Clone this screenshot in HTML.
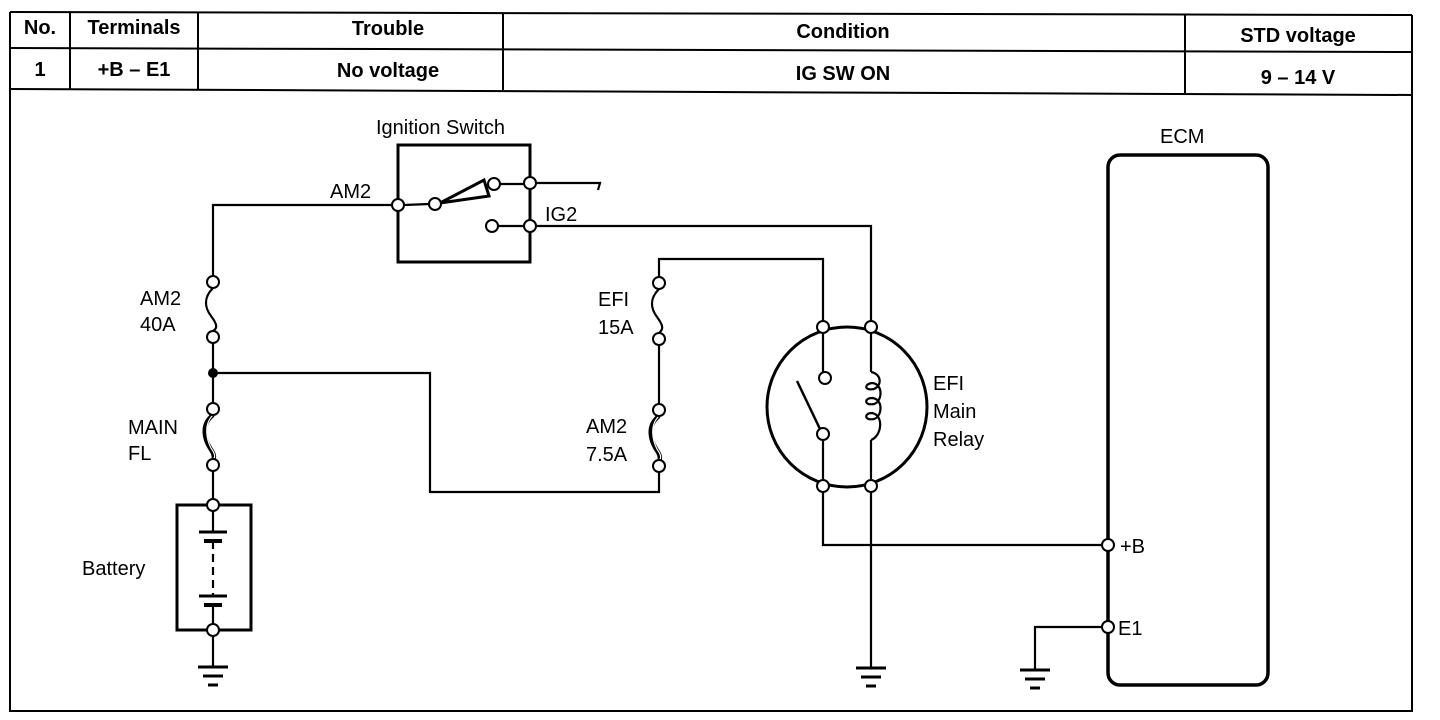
<!DOCTYPE html>
<html><head><meta charset="utf-8"><style>
html,body{margin:0;padding:0;background:#fff;}
svg{display:block;}
text{font-family:"Liberation Sans",Arial,sans-serif;fill:#000;}
.b{font-weight:bold;font-size:20px;}
.l{font-size:20px;}
</style></head><body>
<svg width="1440" height="720" viewBox="0 0 1440 720" xmlns="http://www.w3.org/2000/svg">
<g stroke="#000" fill="none" stroke-width="2">
<line x1="10" y1="12" x2="1412" y2="15"/>
<line x1="10" y1="48" x2="1412" y2="52"/>
<line x1="10" y1="89" x2="1412" y2="95"/>
<line x1="10" y1="12" x2="10" y2="712"/>
<line x1="1412" y1="15" x2="1412" y2="712"/>
<line x1="10" y1="711" x2="1412" y2="711"/>
<line x1="70" y1="12" x2="70" y2="89"/>
<line x1="198" y1="12" x2="198" y2="89"/>
<line x1="503" y1="13" x2="503" y2="90"/>
<line x1="1185" y1="15" x2="1185" y2="94"/>
</g>
<text class="b" x="40" y="34" text-anchor="middle">No.</text>
<text class="b" x="134" y="34" text-anchor="middle">Terminals</text>
<text class="b" x="388" y="35" text-anchor="middle">Trouble</text>
<text class="b" x="843" y="38" text-anchor="middle">Condition</text>
<text class="b" x="1298" y="42" text-anchor="middle">STD voltage</text>
<text class="b" x="40" y="76" text-anchor="middle">1</text>
<text class="b" x="134" y="76" text-anchor="middle">+B – E1</text>
<text class="b" x="388" y="77" text-anchor="middle">No voltage</text>
<text class="b" x="843" y="80" text-anchor="middle">IG SW ON</text>
<text class="b" x="1298" y="84" text-anchor="middle">9 – 14 V</text>

<g stroke="#000" fill="none" stroke-width="2.2">
<polyline points="398,205 213,205 213,276"/>
<line x1="213" y1="343" x2="213" y2="403"/>
<line x1="213" y1="471" x2="213" y2="499"/>
<path d="M213,288 C203,298 205,308 211,316 C217,324 218,328 213,331"/>
<path d="M213,415 C200,425 205,440 210,448 C215,455 214,458 213,459" stroke-width="4.5"/>
<path d="M213,415 C203,425 207,440 211,448 C216,455 215,458 213,459" stroke="#fff" stroke-width="1.2"/>
<polyline points="213,373 430,373 430,492 659,492 659,472"/>
<line x1="659" y1="404" x2="659" y2="345"/>
<polyline points="659,277 659,259 823,259 823,321"/>
<path d="M659,289 C649,299 651,309 657,317 C663,325 664,329 659,333"/>
<path d="M659,416 C646,426 651,441 656,449 C661,456 660,459 659,460" stroke-width="4.5"/>
<path d="M659,416 C649,426 653,441 657,449 C662,456 661,459 659,460" stroke="#fff" stroke-width="1.2"/>
<rect x="177" y="505" width="74" height="125" stroke-width="3"/>
<line x1="213" y1="511" x2="213" y2="532"/>
<line x1="199" y1="532" x2="227" y2="532" stroke-width="3"/>
<line x1="204" y1="541" x2="222" y2="541" stroke-width="4"/>
<line x1="213" y1="541" x2="213" y2="596" stroke-dasharray="8,5"/>
<line x1="199" y1="596" x2="227" y2="596" stroke-width="3"/>
<line x1="204" y1="605" x2="222" y2="605" stroke-width="4"/>
<line x1="213" y1="605" x2="213" y2="624"/>
<line x1="213" y1="636" x2="213" y2="666"/>
<line x1="198" y1="667" x2="228" y2="667" stroke-width="3"/>
<line x1="203" y1="676" x2="223" y2="676" stroke-width="3"/>
<line x1="208" y1="685" x2="218" y2="685" stroke-width="3"/>
<polyline points="398,205 398,145 530,145 530,262 398,262 398,205" stroke-width="3"/>
<line x1="404" y1="205" x2="429" y2="204"/>
<polygon points="440,203 484,180 489,196" stroke-width="3"/>
<line x1="500" y1="184" x2="524" y2="184"/>
<polyline points="536,183 600,183 598,190"/>
<line x1="498" y1="226" x2="524" y2="226"/>
<polyline points="536,226 871,226 871,321"/>
<circle cx="847" cy="407" r="80" stroke-width="3"/>
<line x1="823" y1="333" x2="823" y2="372"/>
<line x1="797" y1="381" x2="820" y2="429" stroke-width="2.5"/>
<line x1="823" y1="440" x2="823" y2="480"/>
<line x1="871" y1="333" x2="871" y2="372"/>
<path d="M871,372 C882,374 882,386 874,389 C864,391 864,384 872,383 C884,384 882,402 874,404 C864,406 864,398 872,398 C884,399 882,417 874,419 C864,421 864,413 872,413 C884,415 882,436 871,440"/>
<line x1="871" y1="440" x2="871" y2="480"/>
<polyline points="823,492 823,545 1102,545"/>
<line x1="871" y1="492" x2="871" y2="667"/>
<line x1="856" y1="668" x2="886" y2="668" stroke-width="3"/>
<line x1="861" y1="677" x2="881" y2="677" stroke-width="3"/>
<line x1="866" y1="686" x2="876" y2="686" stroke-width="3"/>
<rect x="1108" y="155" width="160" height="530" rx="12" stroke-width="3.5"/>
<polyline points="1102,627 1035,627 1035,670"/>
<line x1="1020" y1="670" x2="1050" y2="670" stroke-width="3"/>
<line x1="1025" y1="679" x2="1045" y2="679" stroke-width="3"/>
<line x1="1030" y1="688" x2="1040" y2="688" stroke-width="3"/>
</g>
<g stroke="#000" fill="#fff" stroke-width="2">
<circle cx="213" cy="282" r="6"/><circle cx="213" cy="337" r="6"/>
<circle cx="213" cy="409" r="6"/><circle cx="213" cy="465" r="6"/>
<circle cx="213" cy="505" r="6"/><circle cx="213" cy="630" r="6"/>
<circle cx="659" cy="283" r="6"/><circle cx="659" cy="339" r="6"/>
<circle cx="659" cy="410" r="6"/><circle cx="659" cy="466" r="6"/>
<circle cx="398" cy="205" r="6"/><circle cx="435" cy="204" r="6"/>
<circle cx="494" cy="184" r="6"/><circle cx="530" cy="183" r="6"/>
<circle cx="492" cy="226" r="6"/><circle cx="530" cy="226" r="6"/>
<circle cx="823" cy="327" r="6"/><circle cx="871" cy="327" r="6"/>
<circle cx="825" cy="378" r="6"/><circle cx="823" cy="434" r="6"/>
<circle cx="823" cy="486" r="6"/><circle cx="871" cy="486" r="6"/>
<circle cx="1108" cy="545" r="6"/><circle cx="1108" cy="627" r="6"/>
</g>
<circle cx="213" cy="373" r="5" fill="#000"/>
<text class="l" x="376" y="134">Ignition Switch</text>
<text class="l" x="330" y="198">AM2</text>
<text class="l" x="545" y="221">IG2</text>
<text class="l" x="140" y="305">AM2</text>
<text class="l" x="140" y="331">40A</text>
<text class="l" x="128" y="434">MAIN</text>
<text class="l" x="128" y="460">FL</text>
<text class="l" x="82" y="575">Battery</text>
<text class="l" x="598" y="306">EFI</text>
<text class="l" x="598" y="334">15A</text>
<text class="l" x="586" y="433">AM2</text>
<text class="l" x="586" y="461">7.5A</text>
<text class="l" x="933" y="390">EFI</text>
<text class="l" x="933" y="418">Main</text>
<text class="l" x="933" y="446">Relay</text>
<text class="l" x="1160" y="143">ECM</text>
<text class="l" x="1120" y="553">+B</text>
<text class="l" x="1118" y="635">E1</text>
</svg>
</body></html>
